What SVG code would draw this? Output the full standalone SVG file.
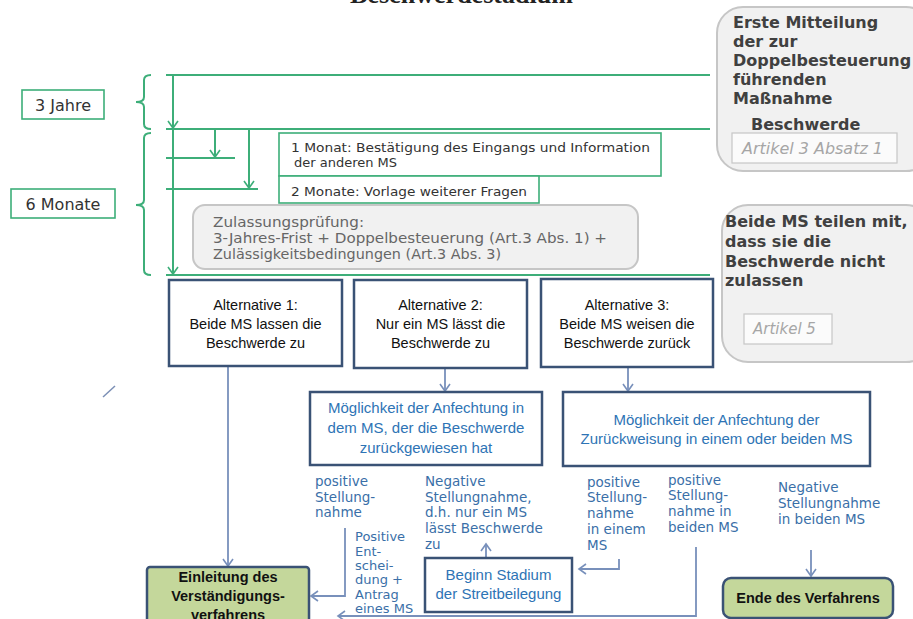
<svg xmlns="http://www.w3.org/2000/svg" width="913" height="619" viewBox="0 0 913 619">
<defs>
<marker id="ag" markerWidth="12" markerHeight="12" refX="9" refY="6" orient="auto" markerUnits="userSpaceOnUse">
<path d="M2,1 L9,6 L2,11" fill="none" stroke="#3dae79" stroke-width="1.6"/>
</marker>
<marker id="ab" markerWidth="12" markerHeight="12" refX="9" refY="6" orient="auto" markerUnits="userSpaceOnUse">
<path d="M2,1 L9,6 L2,11" fill="none" stroke="#7890bb" stroke-width="1.6"/>
</marker>
</defs>
<style>
.g{stroke:#3dae79;stroke-width:2;fill:none}
.gb{fill:#fff;stroke:#3dae79;stroke-width:1.6}
.alt{fill:#fff;stroke:#3a5275;stroke-width:2.5}
.bl{stroke:#7890bb;stroke-width:1.8;fill:none}
.ok{fill:#c4d79b;stroke:#3a5275;stroke-width:2.5}
.grey{fill:#f1f1f1;stroke:#c6c6c6;stroke-width:2}
.art{fill:#fbfbfb;stroke:#c6c6c6;stroke-width:1.2}
.v{font-family:"DejaVu Sans",Verdana,sans-serif}
.c{font-family:"Liberation Sans",Arial,sans-serif}
.dk{fill:#333}
.blue{fill:#2e74b5}
.lab{font-family:"DejaVu Sans",Verdana,sans-serif;font-size:13.5px;fill:#3a6fa8}
.hb{font-family:"DejaVu Sans",Verdana,sans-serif;font-size:16px;font-weight:bold;fill:#404040}
.it{font-family:"DejaVu Sans",Verdana,sans-serif;font-style:italic;font-size:15px;fill:#a6a6a6}
</style>

<text x="350" y="3" font-family="Liberation Serif,serif" font-weight="bold" font-size="26" fill="#222" textLength="223" lengthAdjust="spacingAndGlyphs">Beschwerdestadium</text>

<g id="connectors">
<line class="g" x1="166" y1="75" x2="710" y2="75"/>
<line class="g" x1="166" y1="129" x2="710" y2="129"/>
<line class="g" x1="166" y1="275" x2="710" y2="275"/>
<line class="g" x1="173" y1="75" x2="173" y2="128" marker-end="url(#ag)"/>
<line class="g" x1="173" y1="129" x2="173" y2="274" marker-end="url(#ag)"/>
<line class="g" x1="215" y1="129" x2="215" y2="157" marker-end="url(#ag)"/>
<line class="g" x1="166" y1="158" x2="235" y2="158"/>
<line class="g" x1="249" y1="129" x2="249" y2="188" marker-end="url(#ag)"/>
<line class="g" x1="166" y1="189" x2="258" y2="189"/>
<path class="g" d="M151,75 Q144,75 144,80 L144,97 Q144,102 136,102 Q144,102 144,107 L144,124 Q144,129 151,129"/>
<path class="g" d="M151,133 Q144,133 144,138 L144,200 Q144,205 136,205 Q144,205 144,210 L144,270 Q144,275 151,275"/>

<line class="bl" x1="228" y1="367" x2="228" y2="566" marker-end="url(#ab)"/>
<line class="bl" x1="445" y1="368" x2="445" y2="391" marker-end="url(#ab)"/>
<line class="bl" x1="628" y1="367" x2="628" y2="391" marker-end="url(#ab)"/>
<path class="bl" d="M345,528 L345,596 L311,596" marker-end="url(#ab)"/>
<path class="bl" d="M696,547 L696,616 L338,616" marker-end="url(#ab)"/>
<line class="bl" x1="486" y1="558" x2="486" y2="544" marker-end="url(#ab)"/>
<path class="bl" d="M619,559 L619,569 L579,569" marker-end="url(#ab)"/>
<line class="bl" x1="811" y1="550" x2="811" y2="576" marker-end="url(#ab)"/>
<line x1="103" y1="397" x2="115" y2="386" stroke="#7b8fb5" stroke-width="1.5"/>

<text class="lab"><tspan x="315" y="486">positive</tspan><tspan x="315" y="502">Stellung-</tspan><tspan x="315" y="517">nahme</tspan></text>
<text class="lab" style="font-size:13px"><tspan x="355" y="541">Positive</tspan><tspan x="355" y="555.5">Ent-</tspan><tspan x="355" y="570">schei-</tspan><tspan x="355" y="584">dung +</tspan><tspan x="355" y="598.5">Antrag</tspan><tspan x="355" y="613">eines MS</tspan></text>
<text class="lab"><tspan x="425" y="486">Negative</tspan><tspan x="425" y="502">Stellungnahme,</tspan><tspan x="425" y="517">d.h. nur ein MS</tspan><tspan x="425" y="533">lässt Beschwerde</tspan><tspan x="425" y="549">zu</tspan></text>
<text class="lab"><tspan x="587" y="487">positive</tspan><tspan x="587" y="502">Stellung-</tspan><tspan x="587" y="518">nahme</tspan><tspan x="587" y="534">in einem</tspan><tspan x="587" y="550">MS</tspan></text>
<text class="lab"><tspan x="668" y="485">positive</tspan><tspan x="668" y="500">Stellung-</tspan><tspan x="668" y="516">nahme in</tspan><tspan x="668" y="532">beiden MS</tspan></text>
<text class="lab"><tspan x="778" y="492">Negative</tspan><tspan x="778" y="508">Stellungnahme</tspan><tspan x="778" y="524">in beiden MS</tspan></text>
</g>

<g id="jahre">
<rect class="gb" x="22" y="90" width="82" height="29"/>
<text class="v dk" x="63" y="111" font-size="16" text-anchor="middle">3 Jahre</text>
</g>
<g id="monate">
<rect class="gb" x="11" y="189" width="104" height="29"/>
<text class="v dk" x="63" y="210" font-size="16" text-anchor="middle">6 Monate</text>
</g>

<g id="monat1">
<rect class="gb" x="279" y="133" width="382" height="43"/>
<text class="v dk" font-size="13"><tspan x="291" y="152" textLength="359" lengthAdjust="spacingAndGlyphs">1 Monat: Bestätigung des Eingangs und Information</tspan><tspan x="294" y="167">der anderen MS</tspan></text>
</g>
<g id="monate2">
<rect class="gb" x="279" y="176" width="260" height="27"/>
<text class="v dk" font-size="13" x="291" y="196" textLength="236" lengthAdjust="spacingAndGlyphs">2 Monate: Vorlage weiterer Fragen</text>
</g>

<g id="zulassung">
<rect class="grey" x="193" y="205" width="445" height="64" rx="12"/>
<text class="v" fill="#666" font-size="14"><tspan x="213" y="227" textLength="151" lengthAdjust="spacingAndGlyphs">Zulassungsprüfung:</tspan><tspan x="213" y="243" textLength="394" lengthAdjust="spacingAndGlyphs">3-Jahres-Frist + Doppelbesteuerung (Art.3 Abs. 1) +</tspan><tspan x="213" y="259" textLength="288" lengthAdjust="spacingAndGlyphs">Zulässigkeitsbedingungen (Art.3 Abs. 3)</tspan></text>
</g>

<g id="erste">
<rect class="grey" x="717" y="7" width="215" height="164" rx="26"/>
<text class="hb"><tspan x="733" y="28">Erste Mitteilung</tspan><tspan x="733" y="47">der zur</tspan><tspan x="733" y="66">Doppelbesteuerung</tspan><tspan x="733" y="85">führenden</tspan><tspan x="733" y="104">Maßnahme</tspan><tspan x="751" y="130">Beschwerde</tspan></text>
<rect class="art" x="732" y="133" width="165" height="30"/>
<text class="it" x="742" y="154" textLength="141" lengthAdjust="spacingAndGlyphs">Artikel 3 Absatz 1</text>
</g>

<g id="beide">
<rect class="grey" x="722" y="205" width="210" height="157" rx="26"/>
<text class="hb"><tspan x="725" y="227">Beide MS teilen mit,</tspan><tspan x="725" y="247">dass sie die</tspan><tspan x="725" y="267">Beschwerde nicht</tspan><tspan x="725" y="286">zulassen</tspan></text>
<rect class="art" x="744" y="314" width="88" height="30"/>
<text class="it" x="753" y="334">Artikel 5</text>
</g>

<g id="alt1">
<rect class="alt" x="169" y="280" width="173" height="86"/>
<text class="c" font-size="14.5" fill="#111" text-anchor="middle"><tspan x="255.5" y="310">Alternative 1:</tspan><tspan x="255.5" y="329">Beide MS lassen die</tspan><tspan x="255.5" y="348">Beschwerde zu</tspan></text>
</g>
<g id="alt2">
<rect class="alt" x="354" y="280" width="173" height="88"/>
<text class="c" font-size="14.5" fill="#111" text-anchor="middle"><tspan x="440.5" y="310">Alternative 2:</tspan><tspan x="440.5" y="329">Nur ein MS lässt die</tspan><tspan x="440.5" y="348">Beschwerde zu</tspan></text>
</g>
<g id="alt3">
<rect class="alt" x="541" y="279" width="172" height="88"/>
<text class="c" font-size="14.5" fill="#111" text-anchor="middle"><tspan x="627" y="310">Alternative 3:</tspan><tspan x="627" y="329">Beide MS weisen die</tspan><tspan x="627" y="348">Beschwerde zurück</tspan></text>
</g>

<g id="anfechtung1">
<rect class="alt" x="310" y="392" width="232" height="73"/>
<text class="c blue" font-size="15" text-anchor="middle"><tspan x="426" y="413">Möglichkeit der Anfechtung in</tspan><tspan x="426" y="433">dem MS, der die Beschwerde</tspan><tspan x="426" y="453">zurückgewiesen hat</tspan></text>
</g>
<g id="anfechtung2">
<rect class="alt" x="563" y="392" width="307" height="74"/>
<text class="c blue" font-size="15" text-anchor="middle"><tspan x="716.5" y="425">Möglichkeit der Anfechtung der</tspan><tspan x="716.5" y="444">Zurückweisung in einem oder beiden MS</tspan></text>
</g>

<g id="beginn">
<rect class="alt" x="425" y="558" width="147" height="54"/>
<text class="c blue" font-size="15" text-anchor="middle"><tspan x="498.5" y="580">Beginn Stadium</tspan><tspan x="498.5" y="599">der Streitbeilegung</tspan></text>
</g>

<g id="einleitung">
<rect class="ok" x="147" y="567" width="162" height="62" rx="3"/>
<text class="c" font-size="14.5" font-weight="bold" fill="#111" text-anchor="middle"><tspan x="228" y="582">Einleitung des</tspan><tspan x="228" y="601">Verständigungs-</tspan><tspan x="228" y="620">verfahrens</tspan></text>
</g>

<g id="ende">
<rect class="ok" x="723" y="578" width="170" height="40" rx="8"/>
<text class="c" font-size="14.5" font-weight="bold" fill="#111" text-anchor="middle" x="808" y="603">Ende des Verfahrens</text>
</g>
</svg>
